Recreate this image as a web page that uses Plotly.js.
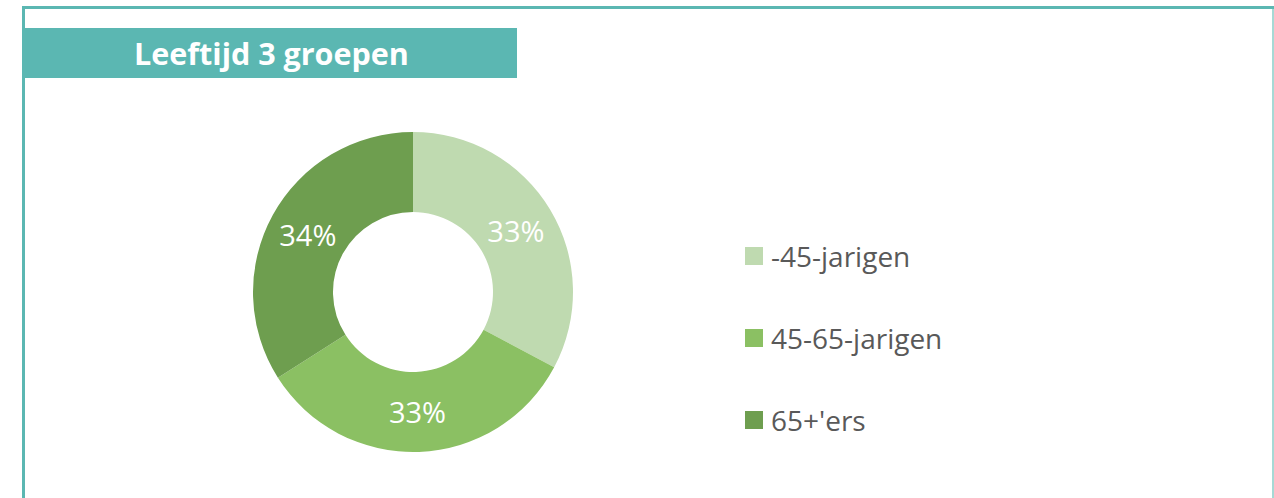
<!DOCTYPE html>
<html>
<head>
<meta charset="utf-8">
<script src="https://cdn.plot.ly/plotly-3.0.1.min.js"></script>
<style>
html,body{margin:0;padding:0;background:#fff;}
#chart{width:1274px;height:498px;}
</style>
</head>
<body>
<div id="chart"></div>
<script>
const categories = ["-45-jarigen", "45-65-jarigen", "65+'ers"];
const values = [32.8, 33.2, 34.0];
const colors = ["#bfdab0", "#8bc063", "#6e9e4f"];
const chartTitle = "Leeftijd 3 groepen";

const W = 1274, H = 498;
const px = x => x / W;
const py = y => 1 - y / H;
const teal = "#5bb7b2";

const shapes = [
  {type:"rect", xref:"paper", yref:"paper", x0:px(22), x1:px(1274), y0:py(9), y1:py(6), fillcolor:teal, line:{width:0}},
  {type:"rect", xref:"paper", yref:"paper", x0:px(22), x1:px(25), y0:py(498), y1:py(6), fillcolor:teal, line:{width:0}},
  {type:"rect", xref:"paper", yref:"paper", x0:px(1272), x1:px(1274), y0:py(498), y1:py(9), fillcolor:"#a6d9d5", line:{width:0}},
  {type:"rect", xref:"paper", yref:"paper", x0:px(24), x1:px(517), y0:py(78), y1:py(28), fillcolor:teal, line:{width:0}}
];
const annotations = [
  {xref:"paper", yref:"paper", x:px(271), y:py(53), text:"<b>"+chartTitle+"</b>", showarrow:false,
   xanchor:"center", yanchor:"middle", font:{family:"Open Sans, sans-serif", size:30.5, color:"#ffffff"}}
];
const legendTop = 256, legendGap = 82;
categories.forEach((c, i) => {
  const yc = legendTop + i * legendGap;
  shapes.push({type:"rect", xref:"paper", yref:"paper", x0:px(745), x1:px(763), y0:py(yc+9), y1:py(yc-9),
    fillcolor:colors[i], line:{width:0}});
  annotations.push({xref:"paper", yref:"paper", x:px(769), y:py(yc), text:c, showarrow:false,
    xanchor:"left", yanchor:"middle", font:{family:"Open Sans, sans-serif", size:28, color:"#595959"}});
});

const cx = 413, cy = 292, r = 160;
const data = [{
  type:"pie",
  labels:categories,
  values:values,
  hole:0.5,
  sort:false,
  direction:"clockwise",
  rotation:0,
  marker:{colors:colors, line:{width:0}},
  texttemplate:"%{percent:.0%}",
  textinfo:"percent",
  textposition:"inside",
  insidetextorientation:"horizontal",
  textfont:{family:"Open Sans, sans-serif", size:29, color:"#ffffff"},
  showlegend:false,
  hoverinfo:"label+percent",
  domain:{x:[px(cx-r), px(cx+r)], y:[py(cy+r), py(cy-r)]}
}];

const layout = {
  width:W, height:H,
  margin:{l:0, r:0, t:0, b:0},
  paper_bgcolor:"#ffffff",
  plot_bgcolor:"#ffffff",
  showlegend:false,
  shapes:shapes,
  annotations:annotations
};
Plotly.newPlot("chart", data, layout, {displayModeBar:false, staticPlot:true});
</script>
</body>
</html>
